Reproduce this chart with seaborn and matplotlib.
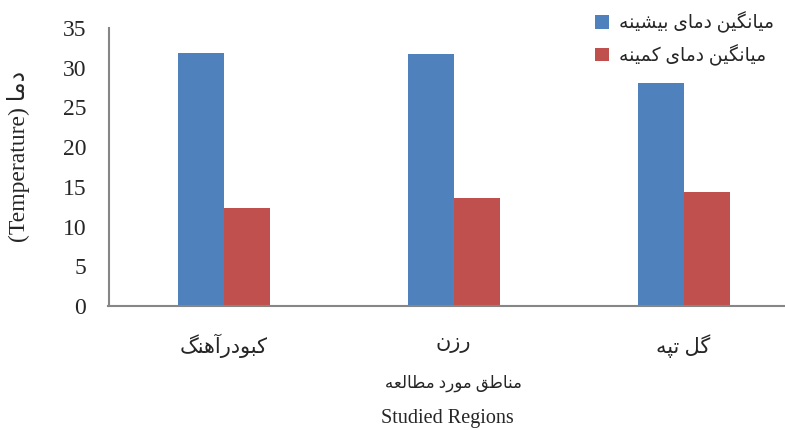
import pandas as pd
import matplotlib
matplotlib.use("Agg")
import matplotlib.pyplot as plt
from matplotlib.patches import Patch
import seaborn as sns

regions = ["کبودرآهنگ", "رزن", "گل تپه"]
series = ["میانگین دمای بیشینه", "میانگین دمای کمینه"]
t_max = [31.9, 31.7, 28.1]
t_min = [12.3, 13.6, 14.3]
y_ticks = [0, 5, 10, 15, 20, 25, 30, 35]
xlabel_fa = "مناطق مورد مطالعه"
xlabel_en = "Studied Regions"
ylabel_fa = "دما"
ylabel_en = "(Temperature)"

colors = ["#4F81BD", "#C0504D"]

# arabic presentation forms: isolated, final, initial, medial
FORMS = {
    "ا": ("\uFE8D", "\uFE8E", None, None),
    "آ": ("\uFE81", "\uFE82", None, None),
    "د": ("\uFEA9", "\uFEAA", None, None),
    "ر": ("\uFEAD", "\uFEAE", None, None),
    "ز": ("\uFEAF", "\uFEB0", None, None),
    "و": ("\uFEED", "\uFEEE", None, None),
    "ب": ("\uFE8F", "\uFE90", "\uFE91", "\uFE92"),
    "پ": ("\uFB56", "\uFB57", "\uFB58", "\uFB59"),
    "ت": ("\uFE95", "\uFE96", "\uFE97", "\uFE98"),
    "ش": ("\uFEB5", "\uFEB6", "\uFEB7", "\uFEB8"),
    "ط": ("\uFEC1", "\uFEC2", "\uFEC3", "\uFEC4"),
    "ع": ("\uFEC9", "\uFECA", "\uFECB", "\uFECC"),
    "ق": ("\uFED5", "\uFED6", "\uFED7", "\uFED8"),
    "ک": ("\uFB8E", "\uFB8F", "\uFB90", "\uFB91"),
    "گ": ("\uFB92", "\uFB93", "\uFB94", "\uFB95"),
    "ل": ("\uFEDD", "\uFEDE", "\uFEDF", "\uFEE0"),
    "م": ("\uFEE1", "\uFEE2", "\uFEE3", "\uFEE4"),
    "ن": ("\uFEE5", "\uFEE6", "\uFEE7", "\uFEE8"),
    "ه": ("\uFEE9", "\uFEEA", "\uFEEB", "\uFEEC"),
    "ی": ("\uFBFC", "\uFBFD", "\uFBFE", "\uFBFF"),
}


def fa(text):
    # join letters and put them in visual (left to right) order
    out = []
    for i, c in enumerate(text):
        if c not in FORMS:
            out.append(c)
            continue
        iso, fin, ini, med = FORMS[c]
        prev = text[i - 1] if i > 0 else None
        nxt = text[i + 1] if i + 1 < len(text) else None
        join_prev = prev in FORMS and FORMS[prev][2] is not None
        join_next = ini is not None and nxt in FORMS
        if join_prev and join_next:
            out.append(med)
        elif join_prev:
            out.append(fin)
        elif join_next:
            out.append(ini)
        else:
            out.append(iso)
    return "".join(reversed(out))


df = pd.DataFrame({
    "region": regions * 2,
    "series": [series[0]] * 3 + [series[1]] * 3,
    "temp": t_max + t_min,
})

sns.set_style("white")
plt.rcParams["font.family"] = ["Liberation Serif", "DejaVu Sans"]

fig = plt.figure(figsize=(7.85, 4.30), dpi=100)
ax = fig.add_axes([108.5 / 785, 124 / 430, 690 / 785, 278 / 430])

sns.barplot(
    data=df,
    x="region",
    y="temp",
    hue="series",
    order=regions,
    hue_order=series,
    palette=colors,
    saturation=1,
    width=0.4,
    gap=0,
    linewidth=0,
    legend=False,
    ax=ax,
)

ax.set_xlim(-0.5, 2.5)
ax.set_ylim(0, 35)
ax.set_yticks(y_ticks)
ax.set_yticklabels([str(v) for v in y_ticks], fontsize=17)
ax.set_xticks(range(len(regions)))
ax.set_xticklabels([fa(r) for r in regions], fontsize=15)
ax.tick_params(axis="x", length=0, pad=20)
ax.tick_params(axis="y", length=6, width=1.2, color="#868686", pad=10, direction="out")
ax.set_xlabel("")
ax.set_ylabel("")

for side in ["top", "right"]:
    ax.spines[side].set_visible(False)
for side in ["left", "bottom"]:
    ax.spines[side].set_color("#868686")
    ax.spines[side].set_linewidth(1.5)

fig.text(453 / 785, 1 - 383 / 430, fa(xlabel_fa), ha="center", va="center", fontsize=12)
fig.text(447 / 785, 1 - 418 / 430, xlabel_en, ha="center", va="center", fontsize=14.5)
fig.text(19 / 785, 1 - 156 / 430, ylabel_en + " " + fa(ylabel_fa),
         ha="center", va="center", rotation=90, fontsize=17)

handles = [Patch(facecolor=c, edgecolor="none") for c in colors]
fig.legend(
    handles,
    [fa(s) for s in series],
    loc="upper right",
    bbox_to_anchor=(1.0, 1.0),
    frameon=False,
    fontsize=13.5,
    handlelength=0.75,
    handleheight=0.75,
    handletextpad=0.5,
    labelspacing=0.6,
    borderaxespad=0.2,
)

fig.savefig("out.png", dpi=100)
